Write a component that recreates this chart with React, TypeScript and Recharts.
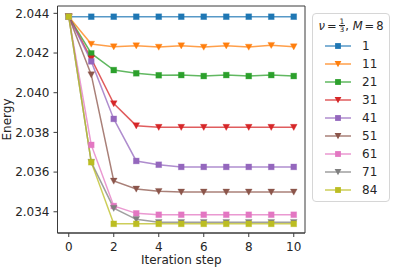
import React from 'react';
import { LineChart, Line, XAxis, YAxis, Legend, ReferenceArea } from 'recharts';

const steps = [0, 1, 2, 3, 4, 5, 6, 7, 8, 9, 10];
const seriesNames = ['1', '11', '21', '31', '41', '51', '61', '71', '84'];
const colors = ['#1f77b4', '#ff7f0e', '#2ca02c', '#d62728', '#9467bd', '#8c564b', '#e377c2', '#7f7f7f', '#bcbd22'];
const markers = ['s', 'v', 's', 'v', 's', 'v', 's', 'v', 's'];

const s1 = [2.04383, 2.04383, 2.04383, 2.04383, 2.04383, 2.04383, 2.04383, 2.04383, 2.04383, 2.04383, 2.04383];
const s11 = [2.04383, 2.04245, 2.04232, 2.04237, 2.0423, 2.04237, 2.0423, 2.04237, 2.0423, 2.04239, 2.04232];
const s21 = [2.04383, 2.04198, 2.04114, 2.04098, 2.04088, 2.04089, 2.04084, 2.04089, 2.04084, 2.04089, 2.04084];
const s31 = [2.04383, 2.04172, 2.03945, 2.03834, 2.03826, 2.03826, 2.03826, 2.03826, 2.03826, 2.03826, 2.03826];
const s41 = [2.04383, 2.04158, 2.03868, 2.03656, 2.03637, 2.03626, 2.03626, 2.03626, 2.03626, 2.03626, 2.03626];
const s51 = [2.04383, 2.04091, 2.03555, 2.03515, 2.03503, 2.035, 2.035, 2.035, 2.035, 2.035, 2.035];
const s61 = [2.04383, 2.03737, 2.03429, 2.03392, 2.03385, 2.03385, 2.03385, 2.03385, 2.03385, 2.03385, 2.03385];
const s71 = [2.04383, 2.0365, 2.03418, 2.03362, 2.03347, 2.03347, 2.03347, 2.03347, 2.03347, 2.03347, 2.03347];
const s84 = [2.04383, 2.0365, 2.03339, 2.03339, 2.03339, 2.03339, 2.03339, 2.03339, 2.03339, 2.03339, 2.03339];

const allSeries = [s1, s11, s21, s31, s41, s51, s61, s71, s84];
const xTicks = [0, 2, 4, 6, 8, 10];
const yTicks = [2.034, 2.036, 2.038, 2.04, 2.042, 2.044];
const xDomain = [-0.5, 10.5];
const yDomain = [2.03293, 2.04437];

const data = steps.map((step, i) => {
  const row: Record<string, number> = { step };
  seriesNames.forEach((n, k) => {
    row['s' + n] = allSeries[k][i];
  });
  return row;
});

const FONT = 'DejaVu Sans, sans-serif';
const TEXT = '#262626';
const SPINE = '#3a3a3a';

const makeDot = (color: string, marker: string) => (props: any) => {
  const { cx, cy, index } = props;
  if (cx == null || cy == null) return <g key={index} />;
  if (marker === 's') {
    const h = 2.9;
    return <rect key={index} x={cx - h} y={cy - h} width={2 * h} height={2 * h} fill={color} stroke={color} strokeOpacity={0.4} strokeWidth={0.8} />;
  }
  const w = 3.4;
  return (
    <path
      key={index}
      d={`M${cx - w},${cy - w * 0.85} L${cx + w},${cy - w * 0.85} L${cx},${cy + w * 0.95} Z`}
      fill={color}
      stroke={color}
      strokeOpacity={0.4}
      strokeWidth={0.8}
    />
  );
};

const LegendIcon = ({ color, marker }: { color: string; marker: string }) => (
  <svg width={26} height={10} style={{ display: 'block' }}>
    <line x1={0} y1={5} x2={26} y2={5} stroke={color} strokeOpacity={0.75} strokeWidth={1.5} />
    {marker === 's' ? (
      <rect x={13 - 2.9} y={5 - 2.9} width={5.8} height={5.8} fill={color} />
    ) : (
      <path d={`M${13 - 3.4},${5 - 2.9} L${13 + 3.4},${5 - 2.9} L13,${5 + 3.2} Z`} fill={color} />
    )}
  </svg>
);

const renderLegend = () => (
  <div
    style={{
      boxSizing: 'border-box',
      width: 78,
      height: 189,
      border: '1px solid #d6d6d6',
      borderRadius: 4,
      background: 'rgba(255,255,255,0.8)',
      fontFamily: FONT,
      fontSize: 12,
      color: TEXT,
      textAlign: 'left',
    }}
  >
    <div style={{ height: 23, display: 'flex', alignItems: 'center', justifyContent: 'center', whiteSpace: 'nowrap', fontSize: 11.5 }}>
      <span style={{ fontStyle: 'italic' }}>ν</span>
      <span style={{ margin: '0 2px' }}>=</span>
      <span style={{ display: 'inline-flex', flexDirection: 'column', alignItems: 'center', fontSize: 7.5, lineHeight: '7.5px' }}>
        <span>1</span>
        <span style={{ borderTop: '0.8px solid #262626', padding: '0 1px' }}>3</span>
      </span>
      <span>,&nbsp;</span>
      <span style={{ fontStyle: 'italic' }}>M</span>
      <span style={{ margin: '0 2px' }}>=</span>
      <span>8</span>
    </div>
    {seriesNames.map((n, k) => (
      <div key={n} style={{ height: 18, display: 'flex', alignItems: 'center', paddingLeft: 12 }}>
        <LegendIcon color={colors[k]} marker={markers[k]} />
        <span style={{ marginLeft: 11, lineHeight: '18px' }}>{n}</span>
      </div>
    ))}
  </div>
);

export default function App() {
  return (
    <div style={{ position: 'absolute', left: 0, top: 0, width: 394, height: 267, background: '#fff' }}>
      <LineChart width={394} height={267} data={data} margin={{ top: 6, right: 89, bottom: 0, left: 0 }}>
        <XAxis
          dataKey="step"
          type="number"
          domain={xDomain}
          ticks={xTicks}
          allowDataOverflow
          height={34}
          tickSize={4}
          tickMargin={5}
          stroke={SPINE}
          tick={{ fill: TEXT, fontSize: 12, fontFamily: FONT }}
          label={{ value: 'Iteration step', position: 'insideBottom', offset: 3, fill: TEXT, fontSize: 12, fontFamily: FONT }}
        />
        <YAxis
          type="number"
          domain={yDomain}
          ticks={yTicks}
          allowDataOverflow
          width={57.5}
          tickSize={4}
          tickMargin={4}
          stroke={SPINE}
          tickFormatter={(v: number) => v.toFixed(3)}
          tick={{ fill: TEXT, fontSize: 12, fontFamily: FONT }}
          label={{
            content: (p: any) => {
              const vb = p.viewBox || {};
              const cx = (vb.x || 0) + 7;
              const cy = (vb.y || 0) + (vb.height || 0) / 2;
              return (
                <text x={cx} y={cy} transform={`rotate(-90, ${cx}, ${cy})`} textAnchor="middle" dominantBaseline="central" fill={TEXT} fontSize={12} fontFamily={FONT}>
                  Energy
                </text>
              );
            },
          }}
        />
        <ReferenceArea x1={xDomain[0]} x2={xDomain[1]} y1={yDomain[0]} y2={yDomain[1]} fill="none" stroke={SPINE} strokeWidth={1} ifOverflow="visible" />
        {seriesNames.map((n, k) => (
          <Line
            key={n}
            dataKey={'s' + n}
            name={n}
            stroke={colors[k]}
            strokeOpacity={0.75}
            strokeWidth={1.5}
            dot={makeDot(colors[k], markers[k])}
            isAnimationActive={false}
            activeDot={false}
          />
        ))}
        <Legend content={renderLegend} layout="horizontal" verticalAlign="middle" align="center" wrapperStyle={{ position: 'absolute', left: 312, top: 13, width: 78 }} />
      </LineChart>
    </div>
  );
}
